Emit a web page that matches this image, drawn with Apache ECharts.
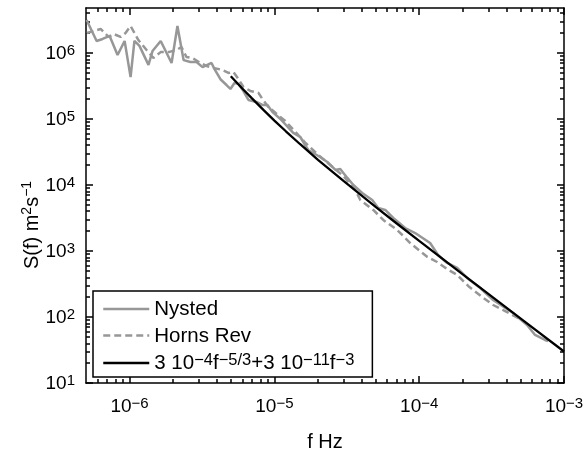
<!DOCTYPE html>
<html>
<head>
<meta charset="utf-8">
<script src="https://cdn.jsdelivr.net/npm/echarts@6/dist/echarts.min.js"></script>
<style>
html, body {margin: 0; padding: 0; background: #fff;}
#spectrum {width: 587px; height: 457px;}
</style>
</head>
<body>
<div id="spectrum"></div>
<script>
// frequency (Hz) and spectral density S(f) (m^2 s^-1)
var nysted_f = [5.05e-7, 5.92e-7, 6.51e-7, 7.28e-7, 8.26e-7, 9.24e-7, 1.016e-6, 1.08e-6, 1.17e-6, 1.35e-6,
    1.44e-6, 1.64e-6, 1.95e-6, 2.14e-6, 2.36e-6, 2.63e-6, 2.90e-6, 3.19e-6, 3.68e-6, 3.86e-6,
    4.24e-6, 4.67e-6, 4.97e-6, 5.30e-6, 5.65e-6, 6.11e-6, 6.62e-6, 7.52e-6, 8.26e-6, 8.95e-6,
    9.68e-6, 1.10e-5, 1.35e-5, 1.51e-5, 1.71e-5, 2.07e-5, 2.32e-5, 2.64e-5, 2.85e-5, 3.19e-5,
    3.51e-5, 4.04e-5, 4.74e-5, 5.21e-5, 5.83e-5, 6.62e-5, 8.0e-5, 9.38e-5, 1.19e-4, 1.35e-4,
    1.56e-4, 1.83e-4, 2.14e-4, 2.64e-4, 3.24e-4, 4.45e-4, 5.56e-4, 6.31e-4, 7.39e-4, 7.76e-4];
var nysted_s = [3.16e6, 1.52e6, 1.63e6, 1.81e6, 9.3e5, 1.52e6, 4.3e5, 1.52e6, 1.28e6, 6.6e5,
    1.07e6, 1.52e6, 7.05e5, 2.56e6, 7.8e5, 7.3e5, 7.3e5, 6.1e5, 7.05e5, 5.7e5,
    4.0e5, 3.27e5, 2.85e5, 3.5e5, 3.4e5, 2.65e5, 1.94e5, 1.81e5, 1.63e5, 1.63e5,
    1.28e5, 1.0e5, 6.14e4, 5.33e4, 3.39e4, 2.65e4, 2.23e4, 1.69e4, 1.75e4, 1.28e4,
    1.0e4, 7.56e3, 5.93e3, 4.48e3, 4.18e3, 3.16e3, 2.23e3, 1.87e3, 1.32e3, 869,
    658, 553, 390, 275, 181, 115, 75.7, 53.4, 44.9, 43.3];

var horns_f = [5.05e-7, 5.65e-7, 6.31e-7, 7.16e-7, 7.76e-7, 8.67e-7, 9.38e-7, 1.016e-6, 1.15e-6, 1.31e-6,
    1.46e-6, 1.64e-6, 1.86e-6, 2.11e-6, 2.28e-6, 2.47e-6, 2.72e-6, 3.09e-6, 3.40e-6, 3.80e-6,
    4.38e-6, 4.82e-6, 5.21e-6, 5.65e-6, 6.11e-6, 6.82e-6, 7.76e-6, 8.26e-6, 9.10e-6, 1.02e-5,
    1.19e-5, 1.40e-5, 1.64e-5, 2.01e-5, 2.43e-5, 2.99e-5, 3.62e-5, 3.92e-5, 4.82e-5, 5.65e-5,
    7.05e-5, 8.67e-5, 1.14e-4, 1.33e-4, 1.56e-4, 1.83e-4, 2.18e-4, 2.72e-4, 3.24e-4, 3.92e-4, 4.97e-4];
var horns_s = [2.01e6, 2.15e6, 2.31e6, 1.75e6, 1.94e6, 1.75e6, 2.01e6, 2.56e6, 1.57e6, 1.11e6,
    8.4e5, 1.03e6, 1.03e6, 1.11e6, 1.23e6, 8.7e5, 8.4e5, 7.05e5, 6.35e5, 5.93e5,
    5.53e5, 4.98e5, 5.15e5, 4.03e5, 3.05e5, 2.66e5, 2.48e5, 2.01e5, 1.52e5, 1.23e5,
    9.3e4, 6.35e4, 4.33e4, 2.85e4, 2.01e4, 1.37e4, 8.4e3, 5.93e3, 4.18e3, 2.95e3,
    2.08e3, 1.32e3, 811, 681, 533, 433, 295, 201, 152, 123, 93.3];

// fitted spectrum 3e-4 f^-5/3 + 3e-11 f^-3, tabulated
var model_f = [5e-6, 6e-6, 7e-6, 8.5e-6, 1e-5, 1.2e-5, 1.5e-5, 2e-5, 3e-5, 5e-5, 7e-5, 1e-4, 2e-4, 5e-4, 1e-3];
var model_s = [4.45e5, 2.90e5, 2.05e5, 1.34e5, 9.46e4, 6.51e4, 4.18e4, 2.41e4, 1.15e4, 4662, 2610, 1423, 442, 95.5, 30.0];

var x_decades = [-6, -5, -4, -3];
var y_decades = [1, 2, 3, 4, 5, 6];
var x_lim = [5e-7, 1e-3];
var y_lim = [10, 4.8e6];

var FONT = 'Liberation Sans, Arial, Helvetica, sans-serif';
var GRAY = '#979797';

function to_log(f, s) {
    return f.map(function (v, i) { return [Math.log10(v), Math.log10(s[i])]; });
}

// log positions of 2..9 x 10^n inside (lo, hi)
function minor_ticks(lo, hi) {
    var out = [];
    for (var d = Math.floor(lo); d < hi; d++) {
        for (var k = 2; k <= 9; k++) {
            var v = d + Math.log10(k);
            if (v > lo && v < hi) out.push(v);
        }
    }
    return out;
}

function pow_label(v) {
    var e = Math.round(v);
    return '{b|10}{s|' + (e < 0 ? '\u2212' + (-e) : e) + '}';
}

var tick_rich = {
    b: {fontSize: 19, lineHeight: 20, verticalAlign: 'bottom', fontFamily: FONT, color: '#000'},
    s: {fontSize: 15, lineHeight: 12, verticalAlign: 'top', fontFamily: FONT, color: '#000'}
};
var text_rich = {
    b: {fontSize: 20.5, lineHeight: 22, verticalAlign: 'bottom', fontFamily: FONT, color: '#000'},
    s: {fontSize: 16.5, lineHeight: 13, verticalAlign: 'top', fontFamily: FONT, color: '#000'}
};

var xr = [Math.log10(x_lim[0]), Math.log10(x_lim[1])];
var yr = [Math.log10(y_lim[0]), Math.log10(y_lim[1])];
var x_minor = minor_ticks(xr[0], xr[1]);
var y_minor = minor_ticks(yr[0], yr[1]);

// one axis per side and tick size: majors carry the frame line, minors only ticks
function make_axis(pos, range, ticks, len, line) {
    return {
        type: 'value',
        position: pos,
        min: range[0],
        max: range[1],
        axisLine: line ? {show: true, lineStyle: {color: '#000', width: 1.5}} : {show: false},
        axisTick: {show: true, inside: true, length: len, customValues: ticks,
            lineStyle: {color: '#000', width: 1.5}},
        axisLabel: {show: false},
        splitLine: {show: false}
    };
}

var x_main = make_axis('bottom', xr, x_decades, 7, true);
x_main.axisLabel = {show: true, customValues: x_decades, formatter: pow_label, rich: tick_rich, margin: 13};
x_main.name = 'f Hz';
x_main.nameLocation = 'middle';
x_main.nameGap = 49;
x_main.nameTextStyle = {fontSize: 20, fontFamily: FONT, color: '#000'};

var y_main = make_axis('left', yr, y_decades, 7, true);
y_main.axisLabel = {show: true, customValues: y_decades, formatter: pow_label, rich: tick_rich, margin: 11};

var model_name = 'model';

var chart = echarts.init(document.getElementById('spectrum'));
chart.setOption({
    animation: false,
    backgroundColor: '#fff',
    grid: {left: 86, right: 23, top: 8, bottom: 74},
    xAxis: [
        x_main,
        make_axis('bottom', xr, x_minor, 4, false),
        make_axis('top', xr, x_decades, 7, true),
        make_axis('top', xr, x_minor, 4, false)
    ],
    yAxis: [
        y_main,
        make_axis('left', yr, y_minor, 4, false),
        make_axis('right', yr, y_decades, 7, true),
        make_axis('right', yr, y_minor, 4, false)
    ],
    legend: {
        orient: 'vertical',
        left: 93,
        top: 291,
        padding: [8, 18, 3, 9],
        itemGap: 5.5,
        itemWidth: 46,
        itemHeight: 14,
        selectedMode: false,
        backgroundColor: '#fff',
        borderColor: '#000',
        borderWidth: 1.5,
        itemStyle: {opacity: 0},
        lineStyle: {width: 2.5},
        data: ['Nysted', 'Horns Rev', model_name],
        formatter: function (name) {
            if (name === model_name) {
                return '{b|3 10}{s|\u22124}{b|f}{s|\u22125/3}{b|+3 10}{s|\u221211}{b|f}{s|\u22123}';
            }
            return '{b|' + name + '}';
        },
        textStyle: {rich: text_rich}
    },
    graphic: [{
        type: 'text',
        x: 31,
        y: 225,
        rotation: Math.PI / 2,
        style: {
            text: '{b|S(f) m}{s|2}{b|s}{s|\u22121}',
            align: 'center',
            verticalAlign: 'middle',
            rich: {
                b: {fontSize: 20, lineHeight: 22, verticalAlign: 'bottom', fontFamily: FONT, fill: '#000'},
                s: {fontSize: 14, lineHeight: 13, verticalAlign: 'top', fontFamily: FONT, fill: '#000'}
            }
        }
    }],
    series: [
        {
            name: 'Nysted',
            type: 'line',
            symbol: 'none',
            data: to_log(nysted_f, nysted_s),
            lineStyle: {color: GRAY, width: 2.5},
            itemStyle: {color: GRAY},
            z: 2
        },
        {
            name: 'Horns Rev',
            type: 'line',
            symbol: 'none',
            data: to_log(horns_f, horns_s),
            lineStyle: {color: GRAY, width: 2.5, type: [7, 4]},
            itemStyle: {color: GRAY},
            z: 2
        },
        {
            name: model_name,
            type: 'line',
            symbol: 'none',
            data: to_log(model_f, model_s),
            lineStyle: {color: '#000', width: 2.3},
            itemStyle: {color: '#000'},
            z: 3
        }
    ]
});
</script>
</body>
</html>
